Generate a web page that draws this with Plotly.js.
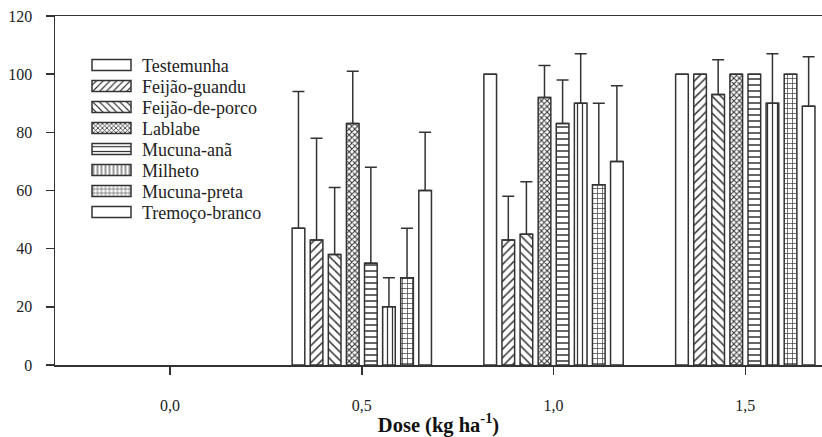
<!DOCTYPE html>
<html>
<head>
<meta charset="utf-8">
<script src="https://cdn.plot.ly/plotly-3.0.1.min.js"></script>
<style>html,body{margin:0;padding:0;background:#fff;}#chart{width:822px;height:437px;}</style>
</head>
<body>
<div id="chart"></div>
<script>
const doses = [0, 0.5, 1.0, 1.5];
const tickLabels = ['0,0', '0,5', '1,0', '1,5'];
const yTicks = [0, 20, 40, 60, 80, 100, 120];
const seriesNames = ['Testemunha', 'Feijão-guandu', 'Feijão-de-porco', 'Lablabe', 'Mucuna-anã', 'Milheto', 'Mucuna-preta', 'Tremoço-branco'];

const testemunha    = [0, 47, 100, 100];
const feijaoGuandu  = [0, 43, 43, 100];
const feijaoPorco   = [0, 38, 45, 93];
const lablabe       = [0, 83, 92, 100];
const mucunaAna     = [0, 35, 83, 100];
const milheto       = [0, 20, 90, 90];
const mucunaPreta   = [0, 30, 62, 100];
const tremoco       = [0, 60, 70, 89];

const errTestemunha   = [null, 47, null, null];
const errFeijaoGuandu = [null, 35, 15, null];
const errFeijaoPorco  = [null, 23, 18, 12];
const errLablabe      = [null, 18, 11, null];
const errMucunaAna    = [null, 33, 15, null];
const errMilheto      = [null, 10, 17, 17];
const errMucunaPreta  = [null, 17, 28, null];
const errTremoco      = [null, 20, 26, 17];

const values = [testemunha, feijaoGuandu, feijaoPorco, lablabe, mucunaAna, milheto, mucunaPreta, tremoco];
const errors = [errTestemunha, errFeijaoGuandu, errFeijaoPorco, errLablabe, errMucunaAna, errMilheto, errMucunaPreta, errTremoco];

const ink = '#333333';
const patterns = [
  {shape: ''},
  {shape: '/', size: 6, solidity: 0.25},
  {shape: '\\', size: 6, solidity: 0.25},
  {shape: 'x', size: 4, solidity: 0.45},
  {shape: '-', size: 6, solidity: 0.25},
  {shape: '|', size: 5, solidity: 0.25},
  {shape: '+', size: 5, solidity: 0.25},
  {shape: ''}
];

const traces = seriesNames.map((name, i) => ({
  type: 'bar',
  name: name,
  x: doses,
  // a zero value draws no visible bar in the reference
  y: values[i].map(v => v === 0 ? null : v),
  marker: {
    color: '#ffffff',
    line: {color: ink, width: 1.5},
    pattern: Object.assign({fgcolor: ink, bgcolor: '#ffffff', fillmode: 'replace'}, patterns[i])
  },
  error_y: {
    type: 'data',
    symmetric: false,
    array: errors[i].map(v => v === null ? NaN : v),
    arrayminus: errors[i].map(v => 0),
    color: ink,
    thickness: 1.5,
    width: 6
  },
  hoverinfo: 'skip'
}));

const serif = '"Liberation Serif", "Times New Roman", serif';

const layout = {
  width: 822,
  height: 437,
  margin: {l: 55, r: 0, t: 16, b: 72},
  paper_bgcolor: '#ffffff',
  plot_bgcolor: '#ffffff',
  barmode: 'group',
  bargap: 0.245,
  bargroupgap: 0.3,
  showlegend: true,
  legend: {
    x: 0.0339, y: 0.9115, xanchor: 'left', yanchor: 'top',
    itemwidth: 51,
    font: {family: serif, size: 18, color: '#222'},
    bgcolor: 'rgba(0,0,0,0)',
    tracegroupgap: 0
  },
  xaxis: {
    range: [-0.3, 1.7],
    tickvals: doses,
    ticktext: tickLabels,
    ticks: 'outside', ticklen: 8, tickwidth: 1.5, tickcolor: ink,
    ticklabelstandoff: 17,
    showline: true, linecolor: ink, linewidth: 1.5, mirror: true,
    showgrid: false, zeroline: false,
    tickfont: {family: serif, size: 16, color: '#222'},
    title: {text: '<b>Dose (kg ha<sup>-1</sup>)</b>', standoff: 10, font: {family: serif, size: 20.5, color: '#111'}}
  },
  yaxis: {
    range: [0, 120],
    tickvals: yTicks,
    ticks: 'outside', ticklen: 8, tickwidth: 1.5, tickcolor: ink,
    ticklabelstandoff: 10,
    showline: true, linecolor: ink, linewidth: 1.5, mirror: false,
    showgrid: false, zeroline: false,
    tickfont: {family: serif, size: 16, color: '#222'}
  }
};

Plotly.newPlot('chart', traces, layout, {displayModeBar: false, staticPlot: true}).then(gd => {
  // tighter legend rows and wide flat swatches, as in the reference
  const items = gd.querySelectorAll('.legend .traces');
  let y0 = null;
  items.forEach((g, i) => {
    const m = /translate\(\s*([-\d.]+)[ ,]+([-\d.]+)\s*\)/.exec(g.getAttribute('transform') || '');
    const tx = m ? parseFloat(m[1]) : 0;
    const ty = m ? parseFloat(m[2]) : 0;
    if (y0 === null) y0 = ty;
    g.setAttribute('transform', 'translate(' + tx + ',' + (y0 + 21 * i) + ')');
    g.querySelectorAll('.legendpoints path').forEach(p => p.setAttribute('d', 'M19.5,5.5H-19.5V-5.5H19.5Z'));
  });
});
</script>
</body>
</html>
